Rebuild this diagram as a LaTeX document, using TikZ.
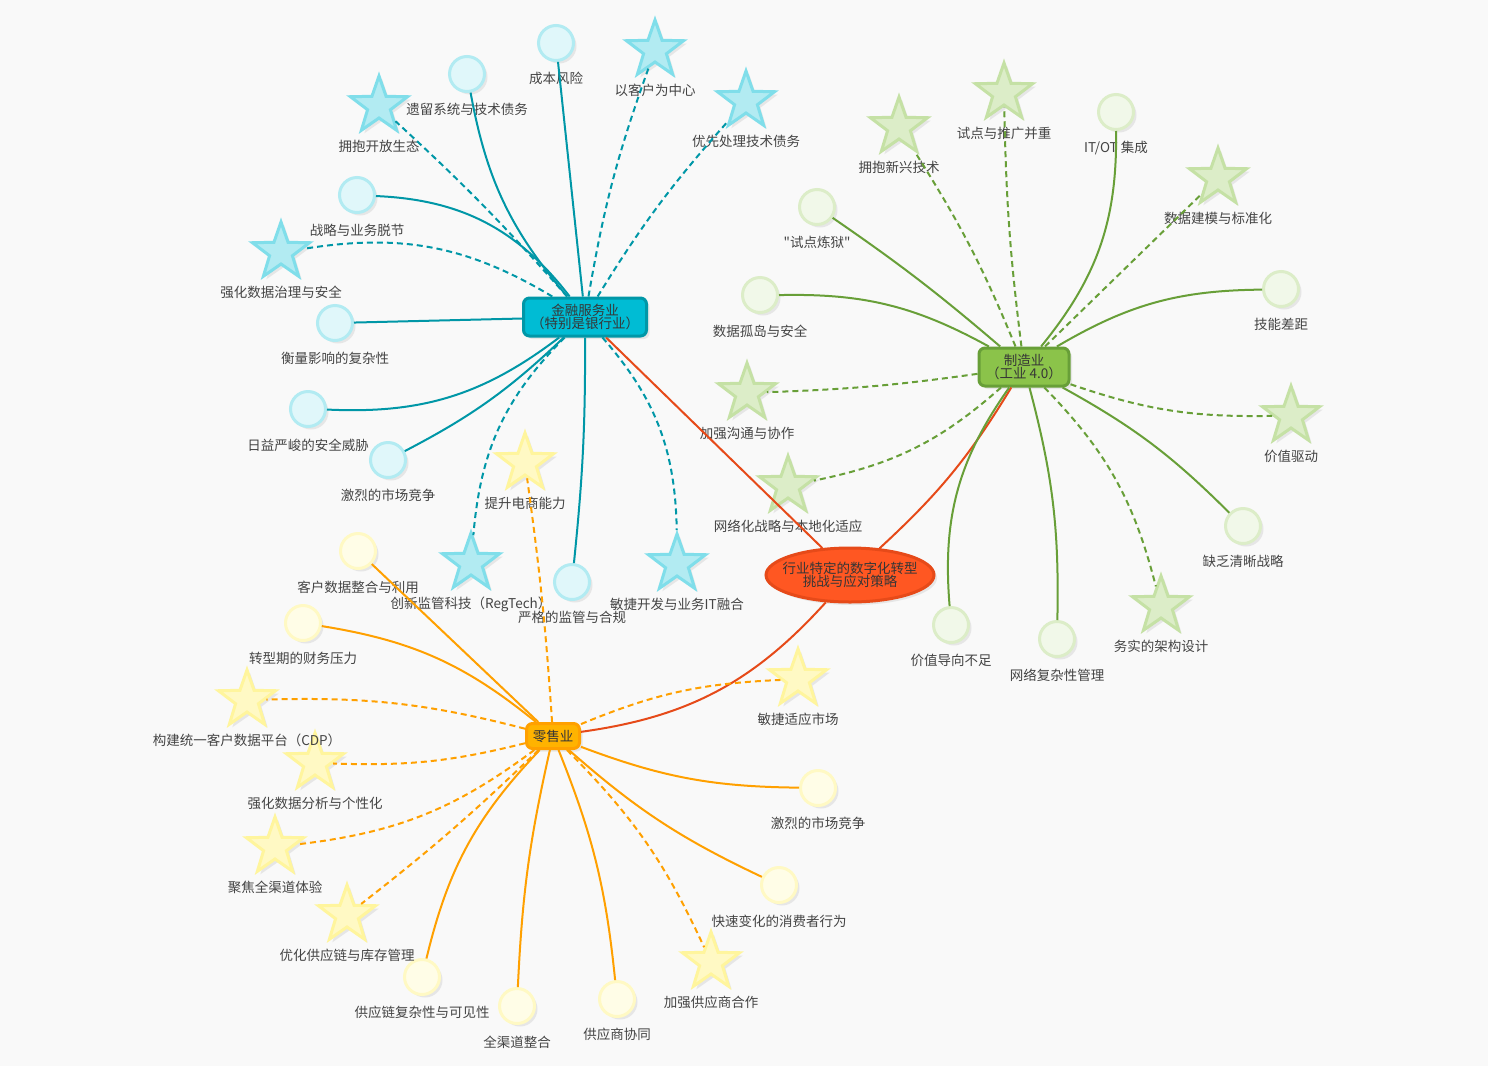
\documentclass[tikz,border=0pt]{standalone}
\usepackage{fontspec}
\newfontfamily\cjk{Noto Sans CJK SC}
\usetikzlibrary{shapes.geometric,shadows}
\definecolor{bgc}{HTML}{F9F9F9}
\definecolor{txt}{HTML}{444444}
\definecolor{fin1}{HTML}{0097A7}
\definecolor{fin2}{HTML}{00BCD4}
\definecolor{fin3}{HTML}{80DEEA}
\definecolor{fin4}{HTML}{B2EBF2}
\definecolor{fin5}{HTML}{E0F7FA}
\definecolor{man1}{HTML}{689F38}
\definecolor{man2}{HTML}{8BC34A}
\definecolor{man3}{HTML}{C5E1A5}
\definecolor{man4}{HTML}{DCEDC8}
\definecolor{man5}{HTML}{F1F8E9}
\definecolor{ret1}{HTML}{FFA000}
\definecolor{ret2}{HTML}{FFB300}
\definecolor{ret3}{HTML}{FFF59D}
\definecolor{ret4}{HTML}{FFF9C4}
\definecolor{ret5}{HTML}{FFFDE7}
\definecolor{core1}{HTML}{E64A19}
\definecolor{core2}{HTML}{FF5722}
\tikzset{
  lbl/.style={font=\cjk\fontsize{13.5}{14}\selectfont, text=txt},
  hubtext/.style={font=\cjk\fontsize{13.5}{13.5}\selectfont, text=txt!80!black, align=center, inner sep=1pt},
  shade/.style={drop shadow={opacity=.15, shadow xshift=3pt, shadow yshift=-3pt}},
  hub/.style={hubtext, rounded corners=6pt, line width=3pt, minimum height=38pt, shade},
  dot/.style={circle, minimum size=35pt, inner sep=0pt, line width=3pt, shade},
  spike/.style={star, star points=5, star point ratio=2.5, minimum size=60pt, inner sep=0pt, line width=3pt, shade},
  findot/.style={dot, draw=fin4, fill=fin5, label={[lbl, yshift=-7pt]below:#1}},
  finstar/.style={spike, draw=fin3, fill=fin4, label={[lbl, yshift=-17pt]below:#1}},
  mandot/.style={dot, draw=man4, fill=man5, label={[lbl, yshift=-7pt]below:#1}},
  manstar/.style={spike, draw=man3, fill=man4, label={[lbl, yshift=-17pt]below:#1}},
  retdot/.style={dot, draw=ret4, fill=ret5, label={[lbl, yshift=-7pt]below:#1}},
  retstar/.style={spike, draw=ret3, fill=ret4, label={[lbl, yshift=-17pt]below:#1}},
  finlink/.style={draw=fin1, line width=2pt},
  manlink/.style={draw=man1, line width=2pt},
  retlink/.style={draw=ret1, line width=2pt},
  corelink/.style={draw=core1, line width=2pt},
  dashy/.style={dash pattern=on 6pt off 4pt}
}
\begin{document}
\begin{tikzpicture}[x=1pt,y=-1pt]
\fill[bgc] (0,0) rectangle (1488,1066);
\node[hubtext, ellipse, draw=core1, fill=core2, line width=3pt, inner xsep=-9pt, minimum width=168pt, minimum height=54pt, shade] (core) at (850,575) {行业特定的数字化转型\\挑战与应对策略};
\node[hub, draw=fin1, fill=fin2, minimum width=123pt] (fin) at (585,317) {金融服务业\\（特别是银行业）};
\node[hub, draw=man1, fill=man2, minimum width=90pt] (man) at (1024,367) {制造业\\（工业 4.0）};
\node[hub, draw=ret1, fill=ret2, minimum width=53pt, minimum height=25pt] (ret) at (553,736) {零售业};
\node[findot=成本风险] (f1) at (556,43) {};
\node[findot=遗留系统与技术债务] (f2) at (467,74) {};
\node[findot=战略与业务脱节] (f3) at (357,195) {};
\node[findot=衡量影响的复杂性] (f4) at (335,323) {};
\node[findot=日益严峻的安全威胁] (f5) at (308,409) {};
\node[findot=激烈的市场竞争] (f6) at (388,460) {};
\node[findot=严格的监管与合规] (f7) at (572,582) {};
\node[finstar=以客户为中心] (f8) at (655,50) {};
\node[finstar=优先处理技术债务] (f9) at (746,101) {};
\node[finstar=拥抱开放生态] (f10) at (379,106) {};
\node[finstar=强化数据治理与安全] (f11) at (281,252) {};
\node[finstar=创新监管科技（RegTech）] (f12) at (471,563) {};
\node[finstar=敏捷开发与业务IT融合] (f13) at (677,564) {};
\node[mandot="试点炼狱"] (m1) at (817,207) {};
\node[mandot=IT/OT 集成] (m2) at (1116,112) {};
\node[mandot=数据孤岛与安全] (m3) at (760,295) {};
\node[mandot=技能差距] (m4) at (1281,289) {};
\node[mandot=缺乏清晰战略] (m5) at (1243,526) {};
\node[mandot=价值导向不足] (m6) at (951,625) {};
\node[mandot=网络复杂性管理] (m7) at (1057,639) {};
\node[manstar=拥抱新兴技术] (m8) at (899,127) {};
\node[manstar=试点与推广并重] (m9) at (1004,93) {};
\node[manstar=数据建模与标准化] (m10) at (1218,178) {};
\node[manstar=加强沟通与协作] (m11) at (747,393) {};
\node[manstar=价值驱动] (m12) at (1291,416) {};
\node[manstar=网络化战略与本地化适应] (m13) at (788,486) {};
\node[manstar=务实的架构设计] (m14) at (1161,606) {};
\node[retdot=客户数据整合与利用] (r1) at (358,551) {};
\node[retdot=转型期的财务压力] (r2) at (303,623) {};
\node[retdot=激烈的市场竞争] (r3) at (818,788) {};
\node[retdot=快速变化的消费者行为] (r4) at (779,885) {};
\node[retdot=供应链复杂性与可见性] (r5) at (422,977) {};
\node[retdot=全渠道整合] (r6) at (517,1006) {};
\node[retdot=供应商协同] (r7) at (617,999) {};
\node[retstar=提升电商能力] (r8) at (525,463) {};
\node[retstar=敏捷适应市场] (r9) at (798,679) {};
\node[retstar=强化数据分析与个性化] (r11) at (315,763) {};
\node[retstar=构建统一客户数据平台（CDP）] (r10) at (247,700) {};
\node[retstar=聚焦全渠道体验] (r12) at (275,847) {};
\node[retstar=优化供应链与库存管理] (r13) at (347,915) {};
\node[retstar=加强供应商合作] (r14) at (711,962) {};
\draw[corelink] (core) -- (fin);
\draw[corelink] (core) to[bend right=8] (man);
\draw[corelink] (core) to[bend left=20] (ret);
\draw[finlink] (fin) -- (f1);
\draw[finlink] (fin) to[bend left=15] (f2);
\draw[finlink] (fin) to[bend right=25] (f3);
\draw[finlink] (fin) -- (f4);
\draw[finlink] (fin) to[bend left=20] (f5);
\draw[finlink] (fin) to[bend left=8] (f6);
\draw[finlink] (fin) to[bend left=3] (f7);
\draw[finlink, dashy] (fin) to[bend left=5] (f8);
\draw[finlink, dashy] (fin) to[bend left=5] (f9);
\draw[finlink, dashy] (fin) to[bend right=3] (f10);
\draw[finlink, dashy] (fin) to[bend right=20] (f11);
\draw[finlink, dashy] (fin) to[bend right=20] (f12);
\draw[finlink, dashy] (fin) to[bend left=20] (f13);
\draw[manlink] (man) to[bend right=3] (m1);
\draw[manlink] (man) to[bend right=20] (m2);
\draw[manlink] (man) to[bend right=15] (m3);
\draw[manlink] (man) to[bend left=15] (m4);
\draw[manlink] (man) to[bend left=8] (m5);
\draw[manlink] (man) to[bend right=20] (m6);
\draw[manlink] (man) to[bend left=8] (m7);
\draw[manlink, dashy] (man) to[bend right=5] (m8);
\draw[manlink, dashy] (man) to[bend left=3] (m9);
\draw[manlink, dashy] (man) -- (m10);
\draw[manlink, dashy] (man) to[bend left=3] (m11);
\draw[manlink, dashy] (man) to[bend right=10] (m12);
\draw[manlink, dashy] (man) to[bend left=15] (m13);
\draw[manlink, dashy] (man) to[bend left=15] (m14);
\draw[retlink] (ret) -- (r1);
\draw[retlink] (ret) to[bend right=15] (r2);
\draw[retlink] (ret) to[bend right=10] (r3);
\draw[retlink] (ret) to[bend right=8] (r4);
\draw[retlink] (ret) to[bend right=15] (r5);
\draw[retlink] (ret) to[bend right=5] (r6);
\draw[retlink] (ret) to[bend left=8] (r7);
\draw[retlink, dashy] (ret) to[bend right=2] (r8);
\draw[retlink, dashy] (ret) to[bend left=10] (r9);
\draw[retlink, dashy] (ret) to[bend right=8] (r10);
\draw[retlink, dashy] (ret) to[bend left=8] (r11);
\draw[retlink, dashy] (ret) to[bend left=15] (r12);
\draw[retlink, dashy] (ret) to[bend left=3] (r13);
\draw[retlink, dashy] (ret) to[bend left=10] (r14);
\end{tikzpicture}
\end{document}
